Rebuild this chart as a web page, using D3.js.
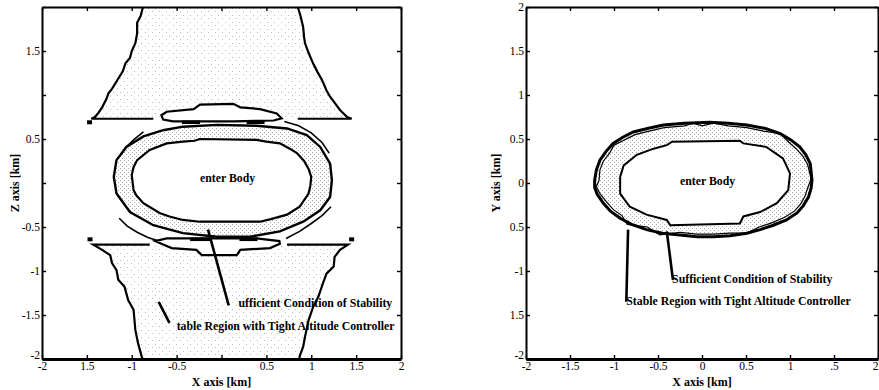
<!DOCTYPE html>
<html>
<head>
<meta charset="utf-8">
<script src="https://cdn.jsdelivr.net/npm/d3@7"></script>
<style>
  body { margin: 0; background: #fff; }
  svg text { font-family: "Liberation Serif", "Times New Roman", serif; fill: #000; }
  .axis path, .axis line { stroke: #000; }
  .axis path { stroke-width: 2; }
  .axis line { stroke-width: 1.4; }
</style>
</head>
<body>
<div id="chart"></div>
<script>
// tick values and the labels as they appear on the scan
const ticks = [-2, -1.5, -1, -0.5, 0, 0.5, 1, 1.5, 2];
const leftXLabels = ["-2", "1.5", "-1", "-0.5", "", "0.5", "1", "1.5", "2"];
const leftZLabels = ["-2", "-1.5", "-1", "-0.5", "", "0.5", "", "1.5", ""];
const rightXLabels = ["-2", "-1.5", "-1", "-0.5", "0", "0.5", "1", ".5", "2"];
const rightYLabels = ["-2", "1.5", "-1", "0.5", "0", "0.5", "1", "1.5", "2"];

// X-Z plane (left) contours, [x, z] in km
const upperLeftEdge = [[-0.875, 2], [-0.9, 1.9], [-0.94, 1.82], [-0.94, 1.7], [-0.96, 1.59], [-1.0, 1.5], [-1.02, 1.42], [-1.07, 1.36], [-1.1, 1.27], [-1.16, 1.17], [-1.22, 1.07], [-1.26, 1.02], [-1.28, 0.96], [-1.33, 0.86], [-1.37, 0.8], [-1.41, 0.75], [-1.45, 0.73], [-0.76, 0.73]];
const upperRightEdge = [[0.85, 2], [0.88, 1.9], [0.91, 1.77], [0.92, 1.66], [0.93, 1.59], [0.97, 1.48], [1.02, 1.36], [1.07, 1.26], [1.12, 1.17], [1.15, 1.1], [1.17, 1.05], [1.21, 0.98], [1.27, 0.9], [1.32, 0.83], [1.4, 0.75], [1.45, 0.73], [0.85, 0.73]];
const lowerLeftEdge = [[-0.88, -2], [-0.89, -1.97], [-0.93, -1.82], [-0.96, -1.67], [-0.98, -1.44], [-1.04, -1.33], [-1.08, -1.18], [-1.15, -1.1], [-1.17, -0.99], [-1.22, -0.91], [-1.24, -0.82], [-1.33, -0.76], [-1.43, -0.7], [-0.8, -0.7]];
const lowerRightEdge = [[0.87, -2], [0.87, -1.97], [0.91, -1.86], [0.93, -1.75], [0.97, -1.56], [1.02, -1.41], [1.08, -1.29], [1.13, -1.14], [1.17, -1.03], [1.25, -0.95], [1.26, -0.84], [1.32, -0.76], [1.41, -0.7], [0.73, -0.7]];
const ringOuterXZ = [[-0.43, 0.64], [-0.05, 0.66], [0.39, 0.65], [0.73, 0.62], [0.95, 0.545], [1.1, 0.41], [1.21, 0.22], [1.23, 0.03], [1.21, -0.16], [1.1, -0.31], [0.91, -0.44], [0.65, -0.55], [0.32, -0.61], [-0.05, -0.61], [-0.43, -0.57], [-0.76, -0.48], [-1.02, -0.33], [-1.17, -0.12], [-1.2, 0.07], [-1.17, 0.26], [-1.06, 0.41], [-0.87, 0.53], [-0.65, 0.6]];
const ringInnerXZ = [[-0.43, 0.47], [-0.3, 0.48], [-0.24, 0.5], [0.39, 0.49], [0.5, 0.47], [0.65, 0.45], [0.76, 0.39], [0.84, 0.34], [0.92, 0.25], [0.97, 0.16], [1.0, 0.07], [0.99, -0.03], [0.97, -0.12], [0.87, -0.27], [0.73, -0.36], [0.55, -0.41], [0.43, -0.44], [-0.24, -0.44], [-0.43, -0.42], [-0.58, -0.38], [-0.69, -0.34], [-0.87, -0.23], [-0.95, -0.14], [-0.98, -0.08], [-1.0, 0.09], [-0.98, 0.18], [-0.94, 0.26], [-0.8, 0.375], [-0.61, 0.45]];
const upperLens = [[-0.67, 0.77], [-0.61, 0.81], [-0.31, 0.84], [-0.24, 0.89], [0.13, 0.9], [0.21, 0.86], [0.43, 0.84], [0.615, 0.79], [0.67, 0.735], [0.58, 0.71], [0.13, 0.7], [-0.54, 0.7], [-0.65, 0.72]];
const lowerLens = [[-0.74, -0.66], [-0.65, -0.7], [-0.555, -0.74], [-0.28, -0.76], [-0.22, -0.82], [0.17, -0.82], [0.21, -0.76], [0.54, -0.74], [0.65, -0.69], [0.645, -0.66], [0.39, -0.63], [-0.61, -0.63]];
const outerArcsXZ = [
  [[-1.12, 0.32], [-1.07, 0.4], [-0.98, 0.49], [-0.87, 0.58]],
  [[0.7, 0.7], [0.86, 0.65], [1.0, 0.57], [1.12, 0.46], [1.2, 0.34]],
  [[-1.14, -0.4], [-1.05, -0.49], [-0.94, -0.56], [-0.82, -0.62], [-0.7, -0.66]],
  [[0.72, -0.63], [0.87, -0.55], [1.0, -0.46], [1.12, -0.37], [1.22, -0.27]]
];
const thickBarsXZ = [
  [[-0.44, 0.69], [-0.24, 0.69]], [[0.28, 0.69], [0.48, 0.69]],
  [[-0.35, -0.64], [-0.12, -0.64]], [[0.2, -0.64], [0.4, -0.64]]
];
const dotsXZ = [[-1.47, 0.69], [-1.465, -0.64], [1.45, -0.64]];

// X-Y plane (right) contours
const ringOuterXY = [[-1.22, 0.03], [-1.2, 0.15], [-1.16, 0.26], [-1.09, 0.36], [-1.01, 0.45], [-0.9, 0.52], [-0.78, 0.58], [-0.62, 0.62], [-0.44, 0.66], [-0.2, 0.68], [0.09, 0.69], [0.3, 0.68], [0.51, 0.66], [0.72, 0.62], [0.89, 0.56], [1.01, 0.49], [1.11, 0.41], [1.18, 0.32], [1.23, 0.22], [1.25, 0.03], [1.24, -0.06], [1.21, -0.16], [1.15, -0.26], [1.08, -0.34], [0.96, -0.42], [0.81, -0.48], [0.66, -0.53], [0.51, -0.57], [0.32, -0.6], [0.13, -0.61], [-0.06, -0.61], [-0.25, -0.59], [-0.45, -0.57], [-0.63, -0.53], [-0.8, -0.47], [-0.93, -0.4], [-1.04, -0.32], [-1.12, -0.23], [-1.19, -0.13], [-1.22, -0.05]];
const ringSecondXY = [[-1.17, 0.03], [-1.16, 0.15], [-1.12, 0.25], [-1.05, 0.34], [-1.0, 0.43], [-0.88, 0.49], [-0.76, 0.55], [-0.6, 0.59], [-0.43, 0.63], [-0.2, 0.65], [-0.1, 0.68], [0.0, 0.65], [0.13, 0.68], [0.3, 0.65], [0.51, 0.63], [0.7, 0.59], [0.89, 0.56], [0.99, 0.46], [1.08, 0.38], [1.15, 0.3], [1.2, 0.21], [1.24, 0.05], [1.2, -0.06], [1.17, -0.15], [1.12, -0.24], [1.05, -0.32], [0.94, -0.39], [0.8, -0.45], [0.65, -0.5], [0.51, -0.57], [0.32, -0.57], [0.13, -0.58], [-0.06, -0.58], [-0.25, -0.56], [-0.48, -0.59], [-0.62, -0.5], [-0.85, -0.47], [-0.91, -0.37], [-1.01, -0.3], [-1.09, -0.21], [-1.16, -0.12], [-1.2, -0.04]];
const ringInnerXY = [[-0.93, 0.07], [-0.89, 0.2], [-0.74, 0.32], [-0.55, 0.39], [-0.4, 0.43], [-0.34, 0.47], [0.43, 0.48], [0.47, 0.45], [0.73, 0.41], [0.92, 0.28], [1.0, 0.11], [0.98, -0.08], [0.85, -0.23], [0.66, -0.33], [0.47, -0.38], [0.43, -0.46], [-0.36, -0.48], [-0.4, -0.42], [-0.63, -0.36], [-0.82, -0.27], [-0.93, -0.12]];

// annotations: leader lines and text anchors, in km
const leftLeaders = [[[-0.15, -0.53], [0.08, -1.39]], [[-0.7, -1.35], [-0.58, -1.59]]];
const leftNotes = [
  { text: "enter Body", at: [-0.24, 0.015] },
  { text: "ufficient Condition of Stability", at: [0.19, -1.41] },
  { text: "table Region with Tight Altitude Controller", at: [-0.5, -1.67] }
];
const rightLeaders = [[[-0.84, -0.53], [-0.86, -1.35]], [[-0.4, -0.55], [-0.33, -1.1]]];
const rightNotes = [
  { text: "enter Body", at: [-0.25, -0.02] },
  { text: "Sufficient Condition of Stability", at: [-0.34, -1.14] },
  { text: "Stable Region with Tight Altitude Controller", at: [-0.86, -1.39] }
];

const width = 879;
const height = 390;

const svg = d3.select("#chart").append("svg").attr("width", width).attr("height", height);

// stipple fills, like the dotted shading of the scan
const defs = svg.append("defs");
function addStipple(id, size, dots, colour) {
  const p = defs.append("pattern").attr("id", id).attr("patternUnits", "userSpaceOnUse")
    .attr("width", size).attr("height", size);
  dots.forEach(d => p.append("rect").attr("x", d[0]).attr("y", d[1]).attr("width", 1).attr("height", 1).attr("fill", colour));
}
addStipple("dense", 4, [[0, 0], [2, 2]], "#a8a8a8");
addStipple("sparse", 7, [[1, 1], [5, 4]], "#bdbdbd");

const panels = [
  { x: d3.scaleLinear().domain([-2, 2]).range([42, 401]), y: d3.scaleLinear().domain([-2, 2]).range([359, 7]),
    xLabels: leftXLabels, yLabels: leftZLabels, yTitle: "Z axis [km]", yTitleX: 15 },
  { x: d3.scaleLinear().domain([-2, 2]).range([526, 878]), y: d3.scaleLinear().domain([-2, 2]).range([359, 7]),
    xLabels: rightXLabels, yLabels: rightYLabels, yTitle: "Y axis [km]", yTitleX: 496 }
];

function lineFor(p, closed) {
  return d3.line().curve(closed ? d3.curveLinearClosed : d3.curveLinear).x(d => p.x(d[0])).y(d => p.y(d[1]));
}

function drawContours(p, g) {
  const open = lineFor(p, false);
  const closed = lineFor(p, true);

  if (p === panels[0]) {
    // shaded stable regions above and below
    g.append("path").attr("d", closed(upperLeftEdge.concat(upperRightEdge.slice().reverse())))
      .attr("fill", "url(#sparse)").attr("stroke", "none");
    g.append("path").attr("d", closed(lowerLeftEdge.concat(lowerRightEdge.slice().reverse())))
      .attr("fill", "url(#sparse)").attr("stroke", "none");
    [upperLeftEdge, upperRightEdge, lowerLeftEdge, lowerRightEdge].forEach(e =>
      g.append("path").attr("d", open(e)).attr("fill", "none").attr("stroke", "#000").attr("stroke-width", 2.2));

    // ring
    g.append("path").attr("d", closed(ringOuterXZ) + closed(ringInnerXZ))
      .attr("fill", "url(#dense)").attr("fill-rule", "evenodd").attr("stroke", "none");
    g.append("path").attr("d", closed(ringOuterXZ)).attr("fill", "none").attr("stroke", "#000").attr("stroke-width", 2.4);
    g.append("path").attr("d", closed(ringInnerXZ)).attr("fill", "none").attr("stroke", "#000").attr("stroke-width", 2.2);

    outerArcsXZ.forEach(a =>
      g.append("path").attr("d", open(a)).attr("fill", "none").attr("stroke", "#000").attr("stroke-width", 1.6));

    [upperLens, lowerLens].forEach(l =>
      g.append("path").attr("d", closed(l)).attr("fill", "#fff").attr("stroke", "#000").attr("stroke-width", 2.2));

    thickBarsXZ.forEach(b =>
      g.append("path").attr("d", open(b)).attr("stroke", "#000").attr("stroke-width", 3.5));

    g.selectAll(".dot").data(dotsXZ).enter().append("rect").attr("class", "dot")
      .attr("x", d => p.x(d[0]) - 2.5).attr("y", d => p.y(d[1]) - 2)
      .attr("width", 5).attr("height", 4).attr("fill", "#000");
  } else {
    g.append("path").attr("d", closed(ringOuterXY) + closed(ringInnerXY))
      .attr("fill", "url(#dense)").attr("fill-rule", "evenodd").attr("stroke", "none");
    g.append("path").attr("d", closed(ringOuterXY)).attr("fill", "none").attr("stroke", "#000").attr("stroke-width", 3);
    g.append("path").attr("d", closed(ringSecondXY)).attr("fill", "none").attr("stroke", "#000").attr("stroke-width", 1.2);
    g.append("path").attr("d", closed(ringInnerXY)).attr("fill", "none").attr("stroke", "#000").attr("stroke-width", 2);
  }
}

function drawNotes(p, g, leaders, notes) {
  leaders.forEach(l =>
    g.append("path").attr("d", lineFor(p, false)(l)).attr("stroke", "#000").attr("stroke-width", 2.6));
  g.selectAll(".note").data(notes).enter().append("text").attr("class", "note")
    .attr("x", d => p.x(d.at[0])).attr("y", d => p.y(d.at[1]))
    .style("font-size", "11.8px").style("font-weight", "bold")
    .text(d => d.text);
}

function drawAxes(p, g) {
  const fmt = labels => (d, i) => labels[i];
  const bottom = g.append("g").attr("class", "axis").attr("transform", `translate(0,${p.y(-2)})`)
    .call(d3.axisBottom(p.x).tickValues(ticks).tickFormat(fmt(p.xLabels)).tickSizeInner(-4).tickSizeOuter(0).tickPadding(3));
  bottom.select(".domain").style("stroke-width", 2.8);
  g.append("g").attr("class", "axis").attr("transform", `translate(0,${p.y(2)})`)
    .call(d3.axisTop(p.x).tickValues(ticks).tickFormat("").tickSizeInner(-4).tickSizeOuter(0));
  const left = g.append("g").attr("class", "axis").attr("transform", `translate(${p.x(-2)},0)`)
    .call(d3.axisLeft(p.y).tickValues(ticks).tickFormat(fmt(p.yLabels)).tickSizeInner(-4).tickSizeOuter(0).tickPadding(2));
  g.append("g").attr("class", "axis").attr("transform", `translate(${p.x(2)},0)`)
    .call(d3.axisRight(p.y).tickValues(ticks).tickFormat("").tickSizeInner(-4).tickSizeOuter(0));

  g.selectAll(".axis text").style("font-size", "11.5px");

  // the corner "-2" of the vertical axis sits raised above the horizontal one
  left.selectAll(".tick text").filter(d => d === -2).attr("dy", "-0.05em");
  // last label at the page edge is kept inside the picture
  bottom.selectAll(".tick text").filter(d => d === 2 && p.x(2) > width - 5).attr("text-anchor", "end");

  // axis titles
  g.append("text").attr("x", (p.x(-2) + p.x(2)) / 2).attr("y", 386).attr("text-anchor", "middle")
    .style("font-size", "12px").style("font-weight", "bold").text("X axis [km]");
  g.append("text").attr("transform", `translate(${p.yTitleX},${p.y(0)}) rotate(-90)`).attr("text-anchor", "middle")
    .attr("dy", "0.35em").style("font-size", "12px").style("font-weight", "bold").text(p.yTitle);
}

panels.forEach((p, i) => {
  const g = svg.append("g").attr("class", "panel");
  drawContours(p, g);
  drawNotes(p, g, i === 0 ? leftLeaders : rightLeaders, i === 0 ? leftNotes : rightNotes);
  drawAxes(p, g);
});
</script>
</body>
</html>
